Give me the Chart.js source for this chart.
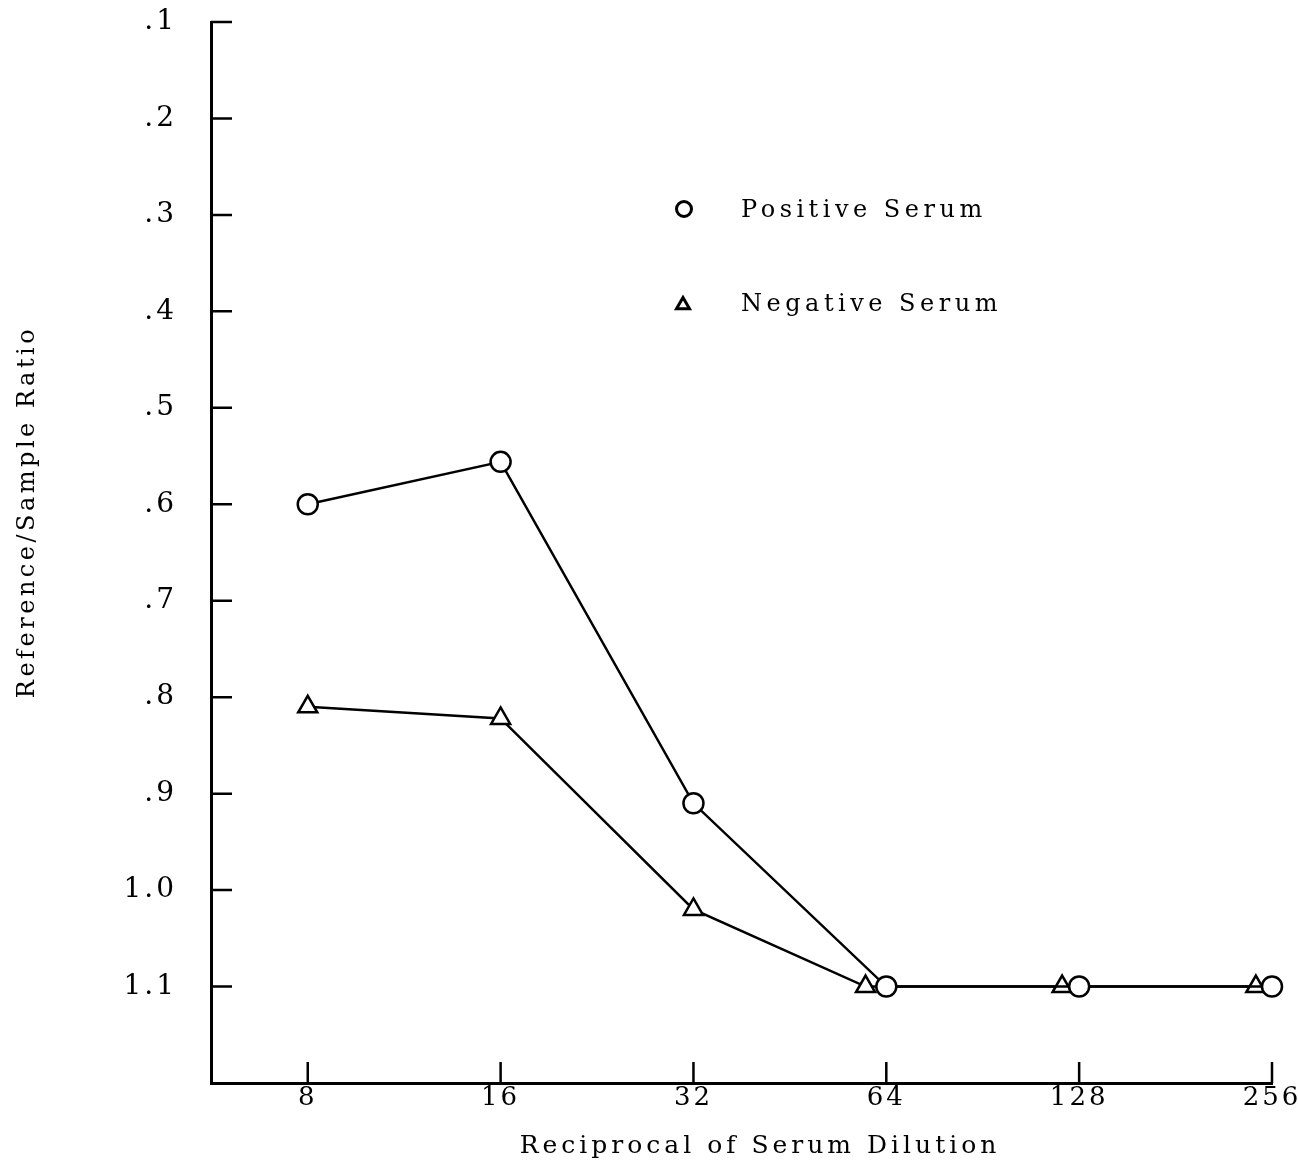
<!DOCTYPE html>
<html>
<head>
<meta charset="utf-8">
<title>Reference/Sample Ratio vs Serum Dilution</title>
<script src="https://cdn.jsdelivr.net/npm/chart.js@4.4.1/dist/chart.umd.min.js"></script>
<style>
  html, body { margin: 0; padding: 0; background: #fff; }
  #wrap { width: 1298px; height: 1166px; }
</style>
</head>
<body>
<div id="wrap"><canvas id="serumChart" width="1298" height="1166"></canvas></div>
<script>
// ─── Data ───

var dilutions = [8, 16, 32, 64, 128, 256];
var ratioTicks = [0.1, 0.2, 0.3, 0.4, 0.5, 0.6, 0.7, 0.8, 0.9, 1.0, 1.1];

// triangles sit a little left of the circles where the two curves meet
var positiveX = [8, 16, 32, 64, 128, 256];
var positiveRatio = [0.600, 0.556, 0.910, 1.100, 1.100, 1.100];
var negativeX = [8, 16, 32, 59.4, 120.4, 241.6];
var negativeRatio = [0.810, 0.822, 1.020, 1.100, 1.100, 1.100];

var seriesNames = ["Positive Serum", "Negative Serum"];
var xTitle = "Reciprocal of Serum Dilution";
var yTitle = "Reference/Sample Ratio";

// ─── Style ───

var ink = "#000";
var fontFamily = "'DejaVu Serif', 'Liberation Serif', serif";

function toPoints(xs, ys) {
  return xs.map(function (x, i) { return { x: x, y: ys[i] }; });
}

function formatRatio(v) {
  var s = Number(v).toFixed(1);
  return s.charAt(0) === "0" ? s.slice(1) : s;
}

// typewriter-like spacing for the tick labels
var letterSpacingPlugin = {
  id: "letterSpacing",
  beforeLayout: function (chart) { chart.ctx.letterSpacing = "3px"; },
  beforeDraw: function (chart) { chart.ctx.letterSpacing = "3px"; },
};

// ticks in the original point inward from the axes
var innerTicksPlugin = {
  id: "innerTicks",
  afterDraw: function (chart) {
    var ctx = chart.ctx;
    var area = chart.chartArea;
    var xs = chart.scales.x;
    var ys = chart.scales.y;
    ctx.save();
    ctx.strokeStyle = ink;
    ctx.lineWidth = 2.5;
    ctx.beginPath();
    ratioTicks.forEach(function (v) {
      var py = ys.getPixelForValue(v);
      ctx.moveTo(area.left, py);
      ctx.lineTo(area.left + 21, py);
    });
    dilutions.forEach(function (v) {
      var px = xs.getPixelForValue(v);
      ctx.moveTo(px, area.bottom);
      ctx.lineTo(px, area.bottom - 21);
    });
    ctx.stroke();
    ctx.restore();
  },
};

// axis titles, placed where the original has them
var axisTitlesPlugin = {
  id: "axisTitles",
  afterDraw: function (chart, args, opts) {
    var ctx = chart.ctx;
    ctx.save();
    ctx.fillStyle = ink;
    ctx.textAlign = "center";
    ctx.textBaseline = "middle";
    ctx.letterSpacing = "4px";
    ctx.font = "25px " + fontFamily;
    ctx.fillText(xTitle, opts.xTitleX, opts.xTitleY);
    ctx.translate(opts.yTitleX, opts.yTitleY);
    ctx.rotate(-Math.PI / 2);
    ctx.letterSpacing = "3.5px";
    ctx.font = "24px " + fontFamily;
    ctx.fillText(yTitle, 0, 0);
    ctx.restore();
  },
};

// legend block inside the plot, drawn from the dataset styles
var markerLegendPlugin = {
  id: "markerLegend",
  afterDraw: function (chart, args, opts) {
    var ctx = chart.ctx;
    ctx.save();
    chart.data.datasets.forEach(function (ds, i) {
      var row = opts.rows[i];
      ctx.strokeStyle = ink;
      ctx.fillStyle = "#fff";
      ctx.lineWidth = 3;
      Chart.helpers.drawPoint(ctx, {
        pointStyle: ds.pointStyle,
        radius: row.radius,
        borderWidth: 3,
        rotation: 0,
      }, row.markerX, row.markerY);
      ctx.fillStyle = ink;
      ctx.letterSpacing = "4.5px";
      ctx.font = "24px " + fontFamily;
      ctx.textAlign = "left";
      ctx.textBaseline = "alphabetic";
      ctx.fillText(ds.label, row.textX, row.textY);
    });
    ctx.restore();
  },
};

// ─── Chart ───

function renderSerumChart() {
  var canvas = document.getElementById("serumChart");
  if (!canvas) return;

  new Chart(canvas, {
    type: "line",
    data: {
      datasets: [
        {
          label: seriesNames[0],
          data: toPoints(positiveX, positiveRatio),
          borderColor: ink,
          borderWidth: 2.5,
          backgroundColor: "#fff",
          pointStyle: "circle",
          pointRadius: 10,
          pointBorderWidth: 2.5,
          pointBackgroundColor: "#fff",
          pointBorderColor: ink,
          tension: 0,
          clip: false,
        },
        {
          label: seriesNames[1],
          data: toPoints(negativeX, negativeRatio),
          borderColor: ink,
          borderWidth: 2.5,
          backgroundColor: "#fff",
          pointStyle: "triangle",
          pointRadius: 11,
          pointBorderWidth: 2.5,
          pointBackgroundColor: "#fff",
          pointBorderColor: ink,
          tension: 0,
          clip: false,
        },
      ],
    },
    options: {
      responsive: false,
      animation: false,
      layout: { padding: { top: 22, right: 26, bottom: 0, left: 0 } },
      plugins: {
        legend: { display: false },
        tooltip: { enabled: false },
        axisTitles: { xTitleX: 760, xTitleY: 1146, yTitleX: 28, yTitleY: 512 },
        markerLegend: {
          rows: [
            { markerX: 684, markerY: 209, radius: 7.5, textX: 741, textY: 217 },
            { markerX: 683, markerY: 305, radius: 7.5, textX: 741, textY: 311 },
          ],
        },
      },
      scales: {
        x: {
          type: "logarithmic",
          min: 5.65,
          max: 256,
          afterBuildTicks: function (axis) {
            axis.ticks = dilutions.map(function (v) { return { value: v }; });
          },
          afterFit: function (scale) {
            scale.height = 83;
            scale.paddingLeft = 0;
            scale.paddingRight = 0;
          },
          grid: { display: false, drawTicks: false },
          border: { display: true, color: ink, width: 3 },
          ticks: {
            autoSkip: false,
            maxRotation: 0,
            padding: 0,
            color: ink,
            font: { family: fontFamily, size: 26 },
            callback: function (v) { return String(v); },
          },
        },
        y: {
          type: "linear",
          reverse: true,
          min: 0.1,
          max: 1.2,
          afterBuildTicks: function (axis) {
            axis.ticks = ratioTicks.map(function (v) { return { value: v }; });
          },
          afterFit: function (scale) {
            scale.width = 211;
            scale.paddingTop = 0;
            scale.paddingBottom = 0;
          },
          grid: { display: false, drawTicks: false },
          border: { display: true, color: ink, width: 3 },
          ticks: {
            autoSkip: false,
            padding: 34,
            color: ink,
            font: { family: fontFamily, size: 28 },
            callback: function (v) { return formatRatio(v); },
          },
        },
      },
    },
    plugins: [letterSpacingPlugin, innerTicksPlugin, axisTitlesPlugin, markerLegendPlugin],
  });
}

// ─── Init ───

document.addEventListener("DOMContentLoaded", function () {
  renderSerumChart();
});
</script>
</body>
</html>
